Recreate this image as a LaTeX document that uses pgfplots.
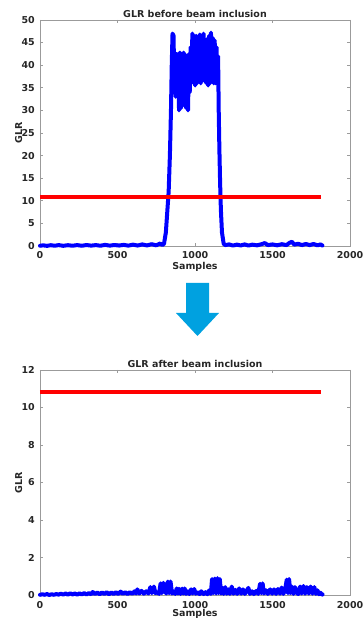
\documentclass[border=0pt]{standalone}
\usepackage{fontspec}
\setmainfont{DejaVu Sans}
\usepackage{pgfplots}
\pgfplotsset{compat=1.18}
\definecolor{axgray}{RGB}{155,155,155}
\definecolor{txt}{RGB}{38,38,38}
\definecolor{arrowblue}{RGB}{0,161,224}
\pgfplotsset{
 glr/.style={
  scale only axis, width=310pt, anchor=south west,
  xmin=0, xmax=2000, xtick={0,500,1000,1500,2000},
  axis line style={axgray, line width=0.6pt},
  tick style={axgray, line width=0.6pt},
  major tick length=3pt,
  tick align=inside,
  /pgf/number format/assume math mode=true,
  /pgf/number format/set thousands separator={},
  every tick label/.append style={font=\fontsize{9.5}{11}\selectfont\bfseries, text=txt},
  every x tick label/.append style={anchor=base, yshift=-13pt},
  every y tick label/.append style={xshift=-1.7pt},
  every axis title shift=0pt,
  title style={font=\fontsize{9.5}{11}\selectfont\bfseries, text=txt, at={(axis description cs:0.5,1)}, anchor=base, yshift=2.5pt},
  label style={font=\fontsize{9.5}{11}\selectfont\bfseries, text=txt},
  xlabel style={at={(axis description cs:0.5,0)}, anchor=base, yshift=-23.5pt},
  ylabel style={at={(axis description cs:-0.058,0.5)}, anchor=base},
  xlabel={Samples}, ylabel={GLR},
  clip=false,
 },
 glrline/.style={blue, line width=4pt, line join=round, line cap=round},
 thr/.style={red, line width=4pt},
}
\begin{document}
\begin{tikzpicture}
\useasboundingbox (0pt,0pt) rectangle (363pt,619pt);
% ---------- top axis ----------
\begin{axis}[glr, at={(40pt,373pt)}, height=226pt,
  ymin=0, ymax=50, ytick={0,5,...,50},
  title={GLR before beam inclusion}]
\addplot[glrline] table {
x y
0 0.05
20 0.15
45 0.03
70 0.18
95 0.05
120 0.2
150 0.04
180 0.18
210 0.06
240 0.2
270 0.05
300 0.22
330 0.08
360 0.2
390 0.06
420 0.25
450 0.08
480 0.22
510 0.1
540 0.25
570 0.08
600 0.3
630 0.1
660 0.35
690 0.12
720 0.4
750 0.15
775 0.55
790 0.2
800 0.5
812 3
822 8
830 12
838 20
845 30
850 40
855 47
862 46.5
866 34
870 42
875 33
880 42.5
886 34
892 42.5
897 30
903 42.8
909 30.5
915 42.5
920 31
926 42.8
932 34
938 42.3
943 30.5
949 42
955 30
961 42.5
966 34
972 44
977 36
983 47
989 36.5
995 46.5
1001 35.5
1007 46.5
1013 36
1019 45.5
1025 36.5
1031 46.8
1037 36
1043 46.5
1049 37
1055 47
1061 36.5
1067 45.5
1073 36
1079 45.8
1085 35.5
1091 46.5
1097 36
1103 47.2
1109 36.5
1115 46
1121 36
1127 45.5
1133 36
1139 44
1144 37
1149 42
1153 30
1157 22
1162 14
1167 8
1174 3
1185 0.5
1195 0.2
1220 0.35
1245 0.1
1270 0.3
1295 0.12
1320 0.35
1345 0.1
1370 0.3
1400 0.15
1430 0.4
1450 0.65
1470 0.2
1500 0.35
1530 0.15
1560 0.4
1590 0.2
1610 0.7
1625 0.95
1640 0.3
1665 0.5
1690 0.2
1715 0.45
1740 0.2
1765 0.45
1790 0.15
1810 0.35
1822 0.1
};
\addplot[thr] coordinates {(0,10.8) (1815,10.8)};
\end{axis}
% ---------- arrow ----------
\fill[arrowblue] (186pt,336pt) -- (209pt,336pt) -- (209pt,306pt) -- (219pt,306pt)
  -- (197.5pt,283pt) -- (176pt,306pt) -- (186pt,306pt) -- cycle;
% ---------- bottom axis ----------
\begin{axis}[glr, at={(40pt,24pt)}, height=225pt,
  ymin=0, ymax=12, ytick={0,2,...,12},
  xlabel style={yshift=2pt},
  title={GLR after beam inclusion}]
\addplot[glrline] table {
x y
0 0.01
15 0.04
30 0.01
45 0.05
60 0.0
75 0.04
90 0.01
105 0.05
120 0.02
135 0.07
150 0.02
165 0.08
180 0.02
195 0.09
210 0.03
225 0.08
240 0.02
255 0.09
270 0.03
285 0.1
300 0.03
315 0.1
330 0.04
340 0.16
355 0.05
370 0.13
385 0.04
400 0.14
415 0.05
430 0.15
445 0.04
460 0.14
475 0.05
490 0.15
505 0.05
520 0.18
535 0.06
550 0.15
565 0.05
580 0.15
595 0.06
610 0.2
620 0.08
628 0.3
640 0.08
655 0.22
670 0.07
685 0.2
700 0.08
712 0.42
722 0.1
735 0.45
745 0.1
758 0.15
768 0.06
778 0.62
786 0.1
796 0.65
806 0.2
815 0.08
825 0.72
833 0.1
842 0.72
852 0.08
862 0.18
872 0.06
882 0.35
890 0.08
897 0.33
907 0.06
917 0.34
925 0.08
933 0.35
943 0.06
953 0.2
963 0.05
975 0.3
985 0.08
995 0.32
1005 0.07
1015 0.15
1030 0.05
1040 0.2
1055 0.05
1068 0.15
1080 0.04
1092 0.25
1102 0.06
1110 0.85
1118 0.1
1128 0.88
1136 0.08
1145 0.9
1152 0.1
1160 0.85
1168 0.08
1175 0.4
1185 0.06
1195 0.42
1205 0.07
1215 0.3
1225 0.06
1237 0.45
1248 0.07
1260 0.28
1272 0.06
1285 0.35
1298 0.07
1310 0.3
1322 0.06
1334 0.22
1344 0.38
1355 0.06
1368 0.2
1380 0.05
1395 0.22
1408 0.06
1420 0.6
1428 0.1
1436 0.62
1445 0.08
1458 0.25
1470 0.06
1485 0.3
1498 0.07
1510 0.3
1523 0.06
1535 0.32
1548 0.07
1559 0.4
1570 0.06
1582 0.3
1592 0.82
1600 0.1
1607 0.85
1615 0.1
1625 0.45
1635 0.06
1645 0.42
1656 0.12
1666 0.05
1678 0.45
1688 0.08
1700 0.48
1710 0.07
1722 0.42
1734 0.08
1746 0.45
1758 0.07
1770 0.42
1780 0.06
1790 0.25
1800 0.04
1810 0.12
1818 0.02
1823 0.03
};
\addplot[thr] coordinates {(0,10.8) (1815,10.8)};
\end{axis}
\end{tikzpicture}
\end{document}
